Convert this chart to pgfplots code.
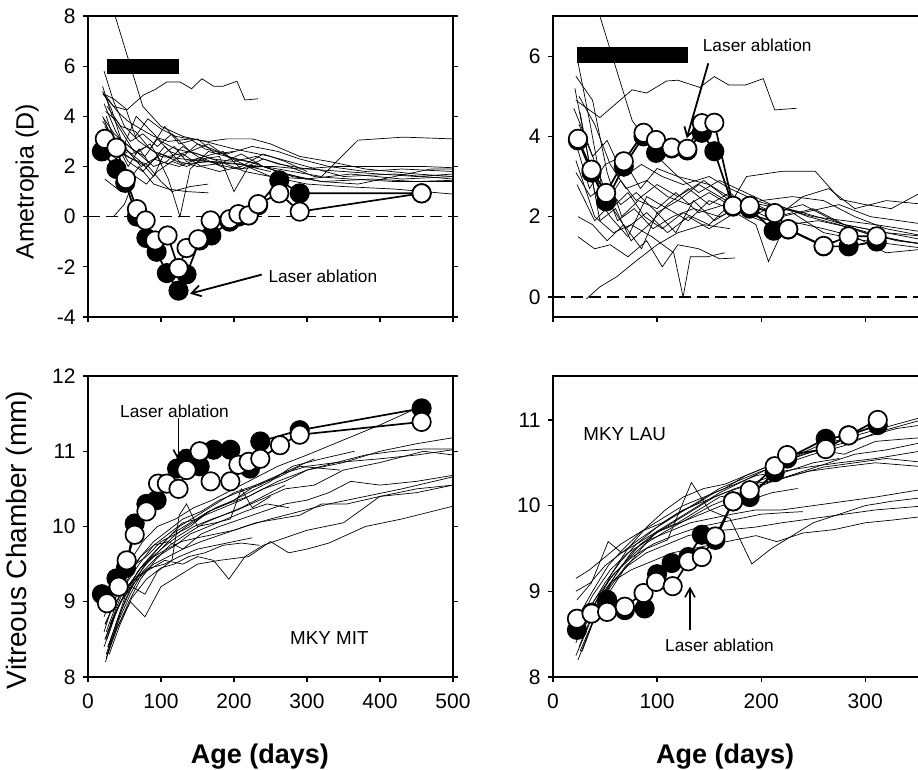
\documentclass[border=0pt]{standalone}
\usepackage{pgfplots}
\pgfplotsset{compat=1.18}
\usepackage{fontspec}
\setmainfont{Liberation Sans}
\usetikzlibrary{arrows.meta}
\pgfplotsset{
 panel/.style={scale only axis, height=301pt, tick align=outside, major tick length=5pt,
   xtick pos=left, ytick pos=both, axis line style={line width=1.2pt},
   every tick/.append style={line width=1.2pt, black},
   tick label style={font=\fontsize{21}{21}\selectfont},
   /pgf/number format/assume math mode=true,
   xticklabel style={yshift=-8pt}, yticklabel style={xshift=-4pt}},
 ind/.style={black, line width=0.7pt, mark=none},
 bser/.style={black, line width=1.7pt, mark=*, mark size=9.2pt, mark options={fill=black, draw=black, line width=1.7pt}},
 wser/.style={black, line width=1.7pt, mark=*, mark size=9.2pt, mark options={fill=white, draw=black, line width=1.7pt}},
}
\tikzset{
 albl/.style={font=\bfseries\fontsize{27}{28}\selectfont, anchor=base},
 ann/.style={font=\fontsize{17.3}{18}\selectfont, inner sep=0pt, anchor=west},
 mky/.style={font=\fontsize{18.8}{19}\selectfont, inner sep=0pt, anchor=west},
 arr/.style={line width=1.8pt, -{Straight Barb[length=9pt,width=11pt,line width=1.8pt]}},
 varr/.style={line width=1.6pt, -{Straight Barb[length=9pt,width=10pt,line width=1.6pt]}},
}
\begin{document}
\begin{tikzpicture}
\path[use as bounding box] (0,0) rectangle (918pt,770pt);
% ---------------- top left ----------------
\begin{axis}[panel, at={(88pt,453pt)}, anchor=south west, width=365pt,
  xmin=0, xmax=500, ymin=-4, ymax=8, xtick={0,100,...,500}, xticklabels={},
  ytick={-4,-2,...,8},
  ylabel={Ametropia (D)}, ylabel style={at={(axis description cs:-0.167,0.449)}, anchor=center, font=\fontsize{25}{25}\selectfont}]
\addplot[ind] coordinates {(20,11) (35,8.2) (75,4.4) (100,3.6) (130,3.2) (160,3.0) (200,2.7) (250,2.4) (300,2.0) (350,1.6) (420,1.7) (500,1.5)};
\addplot[ind] coordinates {(20,4.9) (35,4.4) (53,4.25) (76,4.85) (92,5.07) (108,5.37) (126,5.37) (142,5.1) (156,5.5) (172,5.2) (185,5.2) (204,5.4) (215,4.65) (233,4.7)};
\addplot[ind] coordinates {(22,5.8) (35,4.6) (50,3.6) (70,3.0) (90,2.6) (110,2.4) (140,2.6) (170,2.3) (200,2.2) (230,2.4) (260,2.1) (300,1.9) (350,1.8) (400,1.7) (450,1.6) (500,1.7)};
\addplot[ind] coordinates {(20,5.2) (33,4.0) (48,3.3) (65,2.5) (85,2.9) (100,2.2) (125,2.0) (150,2.3) (180,2.1) (210,2.5) (240,2.0) (270,1.7) (320,1.4) (370,1.3) (420,1.6) (470,1.9) (500,1.9)};
\addplot[ind] coordinates {(21,4.9) (35,4.7) (52,4.3) (65,3.2) (82,3.9) (100,3.5) (120,3.2) (140,3.1) (165,3.0) (190,3.1) (225,3.1) (250,2.9) (290,2.4) (330,2.2) (380,1.9) (450,1.7) (500,1.6)};
\addplot[ind] coordinates {(22,4.5) (38,3.4) (55,2.6) (72,2.2) (90,1.6) (104,2.5) (118,2.8) (135,2.2) (160,2.4) (185,2.6) (210,1.9) (240,2.3) (275,2.0) (310,1.6) (360,1.5) (420,1.4) (500,1.4)};
\addplot[ind] coordinates {(20,3.8) (35,3.2) (55,2.2) (75,1.8) (95,2.4) (110,1.5) (126,0.0) (140,1.9) (165,2.6) (190,2.4) (220,2.2) (260,1.8) (300,1.5)};
\addplot[ind] coordinates {(35,0.0) (50,0.5) (65,1.6) (80,1.3) (95,1.8) (115,2.2) (135,2.0) (160,2.3) (190,1.9)};
\addplot[ind] coordinates {(23,1.5) (45,1.0) (70,2.0) (90,1.3) (110,1.1) (135,1.0) (165,0.95)};
\addplot[ind] coordinates {(25,4.0) (40,2.7) (60,2.3) (80,2.1) (100,1.4) (115,1.0) (140,1.2) (165,1.3)};
\addplot[ind] coordinates {(20,3.5) (40,2.9) (60,2.5) (80,2.8) (100,2.4) (130,2.3) (160,2.2) (200,2.1) (240,2.0) (280,1.8) (320,1.6) (370,3.05) (432,3.17) (500,3.1)};
\addplot[ind] coordinates {(22,3.2) (40,2.6) (60,2.3) (80,2.0) (100,2.5) (130,2.1) (170,2.2) (210,2.1) (250,1.6) (300,1.3) (350,1.2) (420,1.1) (500,0.9)};
\addplot[ind] coordinates {(24,4.2) (40,3.8) (58,3.0) (75,3.3) (95,2.8) (115,3.3) (140,2.6) (165,2.9) (190,2.4) (220,2.0) (255,2.0) (290,1.9) (340,2.0) (400,2.0) (460,2.0) (500,1.95)};
\addplot[ind] coordinates {(20,4.0) (33,3.1) (50,2.9) (66,4.0) (80,3.6) (100,3.0) (120,2.7) (150,2.5) (180,2.2) (215,1.8) (250,1.6) (300,1.5) (360,1.7) (430,1.5) (500,1.6)};
\addplot[ind] coordinates {(20,3.0) (38,2.3) (55,2.6) (73,2.0) (90,2.3) (110,2.1) (130,2.5) (155,2.0) (180,1.8) (210,2.0) (240,2.5) (270,2.2) (300,1.8)};
\addplot[ind] coordinates {(25,4.8) (40,4.2) (55,3.8) (72,3.5) (90,3.2) (110,3.0) (140,3.1) (160,2.7) (190,2.5) (225,2.8) (260,2.6) (290,2.3) (330,2.0) (380,1.8) (430,1.9) (500,1.8)};
\addplot[ind] coordinates {(20,5.0) (32,4.3) (45,3.1) (60,2.7) (78,2.4) (95,3.1) (112,2.6) (130,2.4) (150,2.9) (170,2.7) (200,2.3) (235,2.1)};
\addplot[ind] coordinates {(23,3.6) (38,3.0) (55,2.0) (70,2.7) (85,2.1) (105,2.8) (125,2.2) (150,2.0) (175,2.1) (205,1.9) (240,2.0) (280,1.6) (320,1.4) (390,1.5) (450,1.4) (500,1.45)};
\addplot[ind] coordinates {(26,4.4) (45,3.6) (65,3.4) (85,2.7) (105,3.6) (125,2.9) (150,3.1) (175,2.5) (200,2.6)};
\addplot[ind] coordinates {(22,3.9) (36,3.3) (52,2.9) (70,2.5) (90,2.0) (108,2.2) (130,2.8) (155,2.3) (180,2.4) (200,1.0) (220,2.0) (250,1.8)};
\addplot[black, line width=1.2pt, dash pattern=on 12pt off 6pt] coordinates {(0,0) (500,0)};
\addplot[black, line width=15.5pt] coordinates {(25.6,5.99) (125,5.99)};
\addplot[bser] coordinates {(19,2.6) (39,1.9) (51,1.35) (67,0.0) (80,-0.85) (94,-1.4) (108,-2.25) (124,-2.95) (135,-2.3) (153,-0.95) (169,-0.75) (194,-0.2) (206,0.0) (220,0.05) (233,0.45) (262,1.45) (290,0.93) (457,0.93)};
\addplot[wser] coordinates {(23,3.1) (39,2.75) (52,1.5) (67,0.3) (79,-0.15) (92,-0.95) (109,-0.75) (124,-2.05) (135,-1.25) (151,-0.9) (168,-0.15) (194,-0.1) (206,0.1) (220,0.05) (233,0.5) (262,0.93) (290,0.2) (457,0.93)};
\draw[arr] (axis cs:238,-2.31) -- (axis cs:139.7,-3.07);
\node[ann] at (axis cs:247,-2.36) {Laser ablation};
\end{axis}
% ---------------- top right ----------------
\begin{axis}[panel, at={(553pt,453pt)}, anchor=south west, width=370pt,
  xmin=0, xmax=355.5, ymin=-0.5, ymax=7, xtick={0,100,...,300}, xticklabels={},
  ytick={0,2,...,6}]
\addplot[ind] coordinates {(30,10) (45,7.0) (76,4.4) (100,3.5) (120,3.0) (150,2.8) (175,2.4) (200,2.3) (240,2.1) (280,1.8) (320,1.6) (360,1.5)};
\addplot[ind] coordinates {(22,4.9) (45,4.47) (76,5.16) (90,5.08) (109,5.38) (120,5.4) (141,5.22) (155,5.49) (169,5.28) (185,5.28) (202,5.44) (213,4.66) (234,4.7)};
\addplot[ind] coordinates {(24,5.85) (35,4.4) (50,2.3) (65,2.9) (80,2.4) (100,2.8) (120,2.5) (145,2.9) (170,2.4) (195,2.3) (220,2.0) (250,2.2) (280,1.8) (320,1.6) (360,1.4)};
\addplot[ind] coordinates {(22,5.5) (38,4.9) (52,3.1) (66,2.0) (82,2.4) (100,2.2) (118,2.6) (140,2.1) (165,2.3) (190,2.0) (215,2.3) (245,2.0) (275,1.8) (310,1.5) (360,1.3)};
\addplot[ind] coordinates {(25,5.0) (40,4.3) (55,3.3) (70,2.7) (90,2.9) (110,2.5) (130,2.3) (150,2.6) (175,2.2) (200,2.4) (230,2.5) (260,2.4) (290,2.0) (320,1.7) (360,1.5)};
\addplot[ind] coordinates {(20,4.7) (34,3.8) (48,2.8) (62,1.9) (78,2.2) (96,1.7) (115,2.0) (135,2.2) (160,2.0) (185,2.3) (210,2.1) (240,2.3) (270,1.9) (300,1.6) (335,1.4) (360,1.3)};
\addplot[ind] coordinates {(26,3.8) (40,3.0) (56,2.2) (72,2.6) (88,2.0) (105,1.7) (125,2.1) (150,1.8) (170,2.3) (186,3.0) (220,3.13) (252,3.13) (276,2.43) (300,2.3) (325,2.2) (350,2.55) (360,2.6)};
\addplot[ind] coordinates {(22,3.1) (36,2.5) (50,2.8) (65,2.3) (80,2.6) (100,2.1) (120,2.4) (140,2.8) (160,2.5) (185,2.1) (210,1.9) (240,2.5) (265,2.7) (290,2.2) (320,2.4) (360,2.3)};
\addplot[ind] coordinates {(23,2.8) (40,1.9) (55,2.3) (70,1.7) (90,2.1) (110,1.6) (130,2.0) (150,1.7) (175,2.1) (195,1.8) (207,0.88) (225,1.9) (260,1.7) (290,1.5) (320,1.1) (360,1.2)};
\addplot[ind] coordinates {(25,4.3) (38,3.5) (52,3.9) (68,3.0) (85,3.3) (105,3.0) (125,2.8) (150,3.0) (170,2.7) (195,2.4) (220,2.2) (250,2.0) (280,1.9) (310,1.8) (360,1.6)};
\addplot[ind] coordinates {(24,1.5) (40,1.2) (55,1.3) (72,1.0) (90,1.4) (105,0.75) (120,1.3) (140,1.2) (160,0.95) (175,0.97)};
\addplot[ind] coordinates {(32,-0.05) (45,0.25) (61,0.5) (80,0.9) (100,1.3) (120,1.6) (145,1.8) (170,1.7)};
\addplot[ind] coordinates {(22,3.4) (40,2.0) (58,1.6) (75,1.8) (95,1.5) (116,1.1) (125,0.0) (132,1.0) (148,1.0) (165,1.1)};
\addplot[ind] coordinates {(21,5.2) (33,3.6) (45,1.9) (60,2.2) (75,1.4) (92,1.8) (110,2.3) (130,2.7) (150,2.3) (170,2.6) (195,2.0) (225,1.8) (255,1.9) (290,1.7) (330,1.4) (360,1.3)};
\addplot[ind] coordinates {(20,4.0) (35,2.7) (50,3.3) (66,3.5) (84,2.7) (100,3.2) (120,3.0) (140,2.6) (160,2.9) (185,2.6) (210,2.3) (240,2.1) (275,2.3) (305,2.0) (360,1.8)};
\addplot[ind] coordinates {(26,4.6) (40,2.6) (55,2.0) (72,1.5) (90,2.5) (110,2.2) (130,1.9) (150,2.4) (170,2.2) (200,1.9) (230,2.1) (260,1.6) (300,1.4) (360,1.2)};
\addplot[ind] coordinates {(24,2.0) (38,1.8) (52,1.4) (68,1.8) (85,1.2) (100,2.1) (118,1.6) (135,2.4) (155,1.9) (180,2.3) (205,2.0)};
\addplot[black, line width=1.2pt, dash pattern=on 12pt off 6pt] coordinates {(0,0) (360,0)};
\addplot[black, line width=16pt] coordinates {(23.4,6.02) (129.5,6.02)};
\addplot[bser] coordinates {(24,3.9) (37,3.1) (51,2.38) (68,3.25) (87,4.0) (99,3.59) (114,3.7) (129,3.65) (143,4.09) (155,3.63) (173,2.25) (189,2.2) (212,1.65) (226,1.68) (260,1.26) (284,1.26) (311,1.38)};
\addplot[wser] coordinates {(24,3.94) (37,3.17) (51,2.59) (68,3.38) (87,4.09) (99,3.91) (114,3.72) (129,3.69) (143,4.33) (155,4.34) (173,2.27) (189,2.27) (213,2.09) (226,1.69) (260,1.27) (284,1.51) (311,1.51)};
\draw[arr] (axis cs:149.2,5.82) -- (axis cs:128.5,3.955);
\node[ann] at (axis cs:143.8,6.26) {Laser ablation};
\end{axis}
% ---------------- bottom left ----------------
\begin{axis}[panel, at={(88pt,93pt)}, anchor=south west, width=365pt,
  xmin=0, xmax=500, ymin=8, ymax=12, xtick={0,100,...,500},
  ytick={8,9,...,12},
  ylabel={Vitreous Chamber (mm)}, ylabel style={at={(axis description cs:-0.188,0.455)}, anchor=center, font=\fontsize{28}{28}\selectfont},
  xlabel={Age (days)}, xlabel style={at={(axis description cs:0.471,-0.289)}, albl}]
\addplot[ind] coordinates {(22,8.6) (35,9.0) (50,9.3) (65,9.5) (80,9.6) (100,9.8) (120,9.9) (140,10.0) (165,10.2) (190,10.3) (220,10.4) (260,10.6) (300,10.75) (350,10.85) (400,11.0) (450,11.1) (500,11.18)};
\addplot[ind] coordinates {(25,8.3) (38,8.7) (52,9.1) (68,9.4) (85,9.6) (105,9.8) (125,10.0) (150,10.15) (175,10.3) (200,10.45) (230,10.55) (265,10.7) (300,10.8) (340,10.85) (400,10.9) (450,10.95) (500,11.02)};
\addplot[ind] coordinates {(24,8.2) (36,8.6) (50,9.0) (64,9.3) (80,9.5) (100,9.7) (120,9.85) (145,10.0) (170,10.1) (200,10.2) (235,10.35) (270,10.5) (310,10.55) (350,10.75) (400,10.85) (460,11.0) (500,10.95)};
\addplot[ind] coordinates {(26,8.5) (40,8.9) (55,9.2) (70,9.35) (90,9.5) (110,9.6) (130,9.7) (155,9.8) (185,9.9) (215,10.0) (250,10.1) (290,10.2) (330,10.3) (380,10.4) (430,10.5) (500,10.66)};
\addplot[ind] coordinates {(23,8.7) (38,9.0) (52,9.2) (70,9.35) (88,9.45) (105,9.55) (130,9.5) (150,9.6) (172,9.55) (193,9.3) (215,9.6) (240,9.75) (270,9.85) (300,9.95) (350,10.05) (400,10.4) (450,10.45) (500,10.55)};
\addplot[ind] coordinates {(28,8.4) (42,8.7) (58,9.0) (78,8.8) (100,9.2) (125,9.35) (150,9.5) (180,9.55) (220,9.6) (250,9.8) (275,9.65) (300,9.7) (330,9.78) (380,10.0) (430,10.1) (500,10.27)};
\addplot[ind] coordinates {(22,8.8) (38,9.2) (55,9.5) (75,9.8) (95,10.0) (120,10.1) (145,10.25) (170,10.35) (200,10.5) (230,10.65) (260,10.8) (300,10.95) (350,11.15) (400,11.35) (457,11.6)};
\addplot[ind] coordinates {(25,8.6) (40,9.0) (57,9.35) (72,9.6) (90,9.8) (110,9.95) (130,10.1) (155,10.2) (180,10.35) (205,10.45) (235,10.55) (265,10.7) (310,10.9)};
\addplot[ind] coordinates {(27,8.4) (42,8.8) (58,9.15) (75,9.45) (95,9.7) (115,9.9) (140,10.05) (165,10.2) (190,10.3) (220,10.45) (250,10.6) (280,10.8) (320,10.9) (365,11.0)};
\addplot[ind] coordinates {(24,8.5) (38,8.9) (53,9.25) (70,9.5) (90,9.75) (110,9.9) (130,10.05) (150,10.1) (175,10.25) (200,10.35) (230,10.55) (260,10.65) (290,10.8) (345,10.75)};
\addplot[ind] coordinates {(26,8.3) (42,8.75) (58,9.1) (75,9.4) (95,9.6) (120,9.75) (140,9.9) (165,10.0) (190,10.1) (215,10.2) (245,10.3) (275,10.25)};
\addplot[ind] coordinates {(30,8.7) (45,9.0) (60,9.2) (78,9.1) (95,9.4) (115,9.55) (125,10.15) (135,10.3) (150,10.0) (175,10.05) (195,10.1) (210,10.5) (225,10.25) (250,10.4)};
\addplot[ind] coordinates {(24,8.7) (40,9.1) (56,9.4) (72,9.6) (90,9.75) (110,9.8) (130,9.7) (155,9.9) (180,10.0) (210,10.1) (240,10.2) (270,10.3) (300,10.35) (330,10.45) (360,10.6) (400,10.55) (450,10.6) (500,10.68)};
\addplot[ind] coordinates {(22,8.4) (36,8.8) (50,9.1) (68,9.3) (85,9.45) (105,9.5) (125,9.6) (150,9.7) (175,9.75) (200,9.8) (225,9.85)};
\addplot[ind] coordinates {(27,8.6) (42,8.95) (58,9.25) (76,9.5) (95,9.65) (115,9.85) (135,10.0) (160,10.15) (185,10.25) (210,10.35) (240,10.5) (270,10.6) (300,10.75) (340,10.85) (380,10.95) (420,11.0) (460,11.03) (500,11.03)};
\addplot[ind] coordinates {(25,8.25) (40,8.65) (56,9.0) (72,9.3) (92,9.55) (112,9.75) (135,9.9) (160,10.05) (185,10.15) (210,10.25) (240,10.4) (270,10.55)};
\addplot[ind] coordinates {(23,8.5) (38,8.85) (55,9.2) (72,9.45) (90,9.6) (108,9.7) (128,9.8) (150,9.85) (175,9.9) (200,9.95) (230,10.05) (260,10.1) (290,10.15) (320,10.3) (355,10.3) (400,10.4) (450,10.5) (500,10.55)};
\addplot[ind] coordinates {(29,8.3) (44,8.7) (60,9.05) (80,9.3) (100,9.45) (118,9.5) (138,9.6) (160,9.65) (185,9.75) (210,9.78) (235,9.75)};
\addplot[bser] coordinates {(19,9.1) (39,9.31) (52,9.45) (64,10.04) (80,10.3) (94,10.35) (122,10.77) (135,10.9) (153,10.8) (172,11.02) (195,11.02) (222,10.77) (236,11.13) (290,11.28) (457,11.57)};
\addplot[wser] coordinates {(26,8.98) (42,9.2) (53,9.55) (64,9.89) (80,10.2) (96,10.57) (108,10.57) (124,10.5) (135,10.75) (153,11.0) (168,10.6) (195,10.6) (206,10.82) (220,10.86) (236,10.9) (263,11.08) (290,11.22) (457,11.39)};
\draw[varr] (axis cs:123.7,11.44) -- (axis cs:123.7,10.88);
\node[ann] at (axis cs:43.8,11.525) {Laser ablation};
\node[mky] at (axis cs:276.7,8.52) {MKY MIT};
\end{axis}
% ---------------- bottom right ----------------
\begin{axis}[panel, at={(553pt,93pt)}, anchor=south west, width=370pt,
  xmin=0, xmax=355.5, ymin=8, ymax=11.513, xtick={0,100,...,300},
  ytick={8,9,...,11},
  xlabel={Age (days)}, xlabel style={at={(axis description cs:0.465,-0.289)}, albl}]
\addplot[ind] coordinates {(22,8.4) (35,8.8) (50,9.1) (65,9.35) (80,9.55) (100,9.75) (120,9.9) (140,10.05) (160,10.2) (180,10.3) (200,10.4) (225,10.5) (250,10.6) (280,10.7) (310,10.85) (360,11.02)};
\addplot[ind] coordinates {(24,8.2) (37,8.6) (52,8.95) (68,9.25) (85,9.5) (100,9.7) (120,9.85) (140,10.0) (160,10.15) (185,10.3) (210,10.45) (240,10.6) (270,10.7) (300,10.8) (330,10.9) (360,10.95)};
\addplot[ind] coordinates {(23,8.9) (37,9.1) (53,9.58) (66,9.45) (80,9.55) (100,9.7) (120,9.8) (140,9.95) (160,10.1) (180,10.15) (200,10.25) (230,10.35) (260,10.45) (290,10.5) (320,10.55) (360,10.5)};
\addplot[ind] coordinates {(26,8.3) (40,8.7) (55,9.05) (70,9.3) (90,9.5) (110,9.6) (133,10.27) (150,9.95) (170,9.85) (191,9.32) (210,9.5) (230,9.65) (250,9.8) (275,9.9) (300,10.0) (325,10.05) (360,10.1)};
\addplot[ind] coordinates {(25,8.5) (40,8.85) (55,9.1) (75,9.25) (95,9.35) (115,9.45) (135,9.5) (155,9.55) (175,9.6) (195,9.65) (215,9.58) (240,9.68) (270,9.72) (300,9.8) (325,9.83) (360,9.88)};
\addplot[ind] coordinates {(22,9.15) (35,9.25) (50,9.4) (65,9.55) (85,9.7) (105,9.85) (125,10.0) (145,10.1) (165,10.2) (185,10.35) (205,10.45) (230,10.55) (255,10.65) (280,10.6) (310,10.75) (360,10.8)};
\addplot[ind] coordinates {(24,8.7) (38,9.0) (53,9.3) (68,9.5) (85,9.7) (105,9.8) (125,9.95) (145,10.05) (165,10.15) (190,10.25) (215,10.3) (245,10.4) (275,10.45) (310,10.5) (360,10.45)};
\addplot[ind] coordinates {(28,8.3) (42,8.75) (58,9.15) (75,9.45) (95,9.65) (115,9.8) (135,9.95) (155,10.1) (175,10.2) (200,10.3) (225,10.4) (250,10.5) (275,10.55)};
\addplot[ind] coordinates {(23,8.6) (38,8.95) (55,9.25) (72,9.45) (92,9.6) (112,9.7) (132,9.8) (152,9.85) (172,9.9) (195,9.95) (220,9.95) (250,10.0) (280,10.05) (310,10.1) (360,10.2)};
\addplot[ind] coordinates {(25,8.35) (40,8.8) (56,9.2) (72,9.5) (90,9.75) (108,9.95) (125,10.1) (145,10.2) (165,10.25) (185,10.35) (205,10.45) (228,10.55) (255,10.7) (285,10.8) (315,10.9) (360,11.05)};
\addplot[ind] coordinates {(27,8.55) (42,8.9) (58,9.2) (76,9.4) (96,9.55) (116,9.65) (140,9.75) (160,9.8) (180,9.85) (200,9.9) (225,9.92) (240,9.93)};
\addplot[ind] coordinates {(22,9.0) (36,9.1) (50,9.3) (66,9.45) (82,9.6) (100,9.75) (118,9.9) (135,10.0) (155,10.15) (175,10.25) (195,10.35) (220,10.4) (245,10.45) (275,10.5) (310,10.55) (360,10.65)};
\addplot[ind] coordinates {(24,8.45) (40,8.8) (56,9.1) (72,9.3) (90,9.45) (110,9.55) (130,9.65) (150,9.7) (170,9.72) (195,9.75) (220,9.8) (250,9.85) (280,9.9) (310,9.95) (360,10.0)};
\addplot[ind] coordinates {(26,8.6) (40,8.9) (55,9.15) (70,9.35) (88,9.55) (108,9.7) (130,9.85) (152,10.0) (172,10.1) (193,10.2) (215,10.3) (240,10.4) (265,10.5) (290,10.6) (320,10.65) (360,10.75)};
\addplot[ind] coordinates {(22,8.25) (36,8.65) (50,9.0) (66,9.3) (84,9.55) (102,9.7) (122,9.8) (142,9.9) (162,10.0) (185,10.05) (210,10.15) (235,10.2)};
\addplot[bser] coordinates {(23,8.55) (37,8.75) (52,8.9) (69,8.78) (88,8.8) (100,9.2) (114,9.33) (130,9.4) (143,9.66) (156,9.6) (173,10.05) (189,10.1) (213,10.39) (225,10.55) (262,10.78) (284,10.82) (312,10.94)};
\addplot[wser] coordinates {(23,8.68) (37,8.74) (52,8.76) (69,8.82) (87,8.98) (99,9.11) (115,9.06) (130,9.35) (143,9.4) (156,9.64) (173,10.05) (189,10.18) (213,10.46) (225,10.59) (262,10.66) (284,10.82) (312,11.0)};
\draw[varr] (axis cs:131.6,8.549) -- (axis cs:131.6,9.054);
\node[ann] at (axis cs:107.6,8.373) {Laser ablation};
\node[mky] at (axis cs:29.1,10.836) {MKY LAU};
\end{axis}
\end{tikzpicture}
\end{document}
